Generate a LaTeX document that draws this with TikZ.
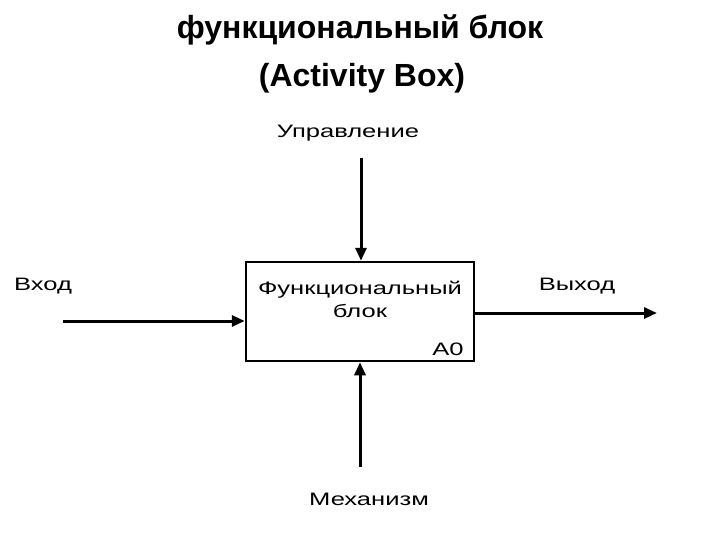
\documentclass[tikz,border=0pt]{standalone}
\usepackage{fontspec}
\setmainfont{Liberation Sans}
\newfontfamily\labfont[FakeStretch=1.42]{Liberation Sans}
\usetikzlibrary{arrows.meta}
\tikzset{
  lab/.style={font=\labfont\fontsize{18}{22}\selectfont, inner sep=0pt, anchor=center},
  conn/.style={line width=3pt, -{Triangle[length=13pt,width=11pt]}},
  fbox/.style={draw, line width=2.5pt, minimum width=228pt, minimum height=99pt, inner sep=0pt},
  ttl/.style={font=\bfseries\fontsize{32}{38}\selectfont, inner sep=0pt}
}
\begin{document}
\begin{tikzpicture}[x=1pt,y=-1pt]
\useasboundingbox (0,0) rectangle (720,540);
\node[ttl] (t1) at (360,30) {функциональный блок};
\node[ttl] (t2) at (362,78) {(Activity Box)};
\node[fbox] (box) at (360,311.5) {};
\node[lab] (n1) at (360,290) {Функциональный};
\node[lab] (n2) at (360,311) {блок};
\node[lab] (a0) at (448,349) {A0};
\node[lab] (up) at (348,133) {Управление};
\node[lab] (mech) at (369,499) {Механизм};
\node[lab] (in) at (43,286) {Вход};
\node[lab] (out) at (577,286) {Выход};
\coordinate (ctop) at (361,158);
\coordinate (cbot) at (360,467);
\coordinate (cin) at (63,321);
\coordinate (cout) at (657,313);
\draw[conn] (ctop) -- (box.north -| ctop);
\draw[conn] (cbot) -- (box.south -| cbot);
\draw[conn] (cin) -- (box.west |- cin);
\draw[conn] (box.east |- cout) -- (cout);
\end{tikzpicture}
\end{document}
